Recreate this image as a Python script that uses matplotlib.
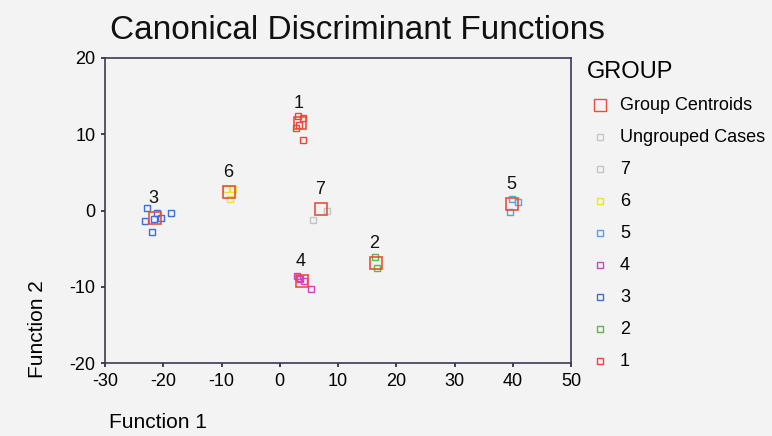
import matplotlib.pyplot as plt
from matplotlib.lines import Line2D

plt.rcParams['font.family'] = ['Liberation Sans', 'DejaVu Sans']
plt.rcParams['axes.unicode_minus'] = False

# discriminant scores per group (Function 1, Function 2)
groups = ['1', '2', '3', '4', '5', '6', '7']
group_x = {
    '1': [3.1, 4.0, 2.8, 4.0, 3.3],
    '2': [16.3, 16.7],
    '3': [-22.8, -21.1, -18.7, -23.1, -20.4, -21.6, -21.9],
    '4': [2.9, 3.5, 4.2, 5.3, 3.3],
    '5': [39.9, 40.9, 39.5],
    '6': [-9.2, -8.1, -8.5],
    '7': [5.7, 8.1],
}
group_y = {
    '1': [12.4, 12.1, 10.8, 9.2, 11.2],
    '2': [-6.1, -7.5],
    '3': [0.3, -0.3, -0.3, -1.4, -1.0, -1.1, -2.8],
    '4': [-8.6, -9.0, -9.2, -10.3, -8.8],
    '5': [1.5, 1.1, -0.2],
    '6': [2.8, 2.8, 1.5],
    '7': [-1.2, 0.0],
}
centroid_x = [3.5, 16.5, -21.4, 3.8, 39.9, -8.7, 7.1]
centroid_y = [11.5, -6.9, -1.0, -9.2, 0.85, 2.4, 0.2]

colors = {
    '1': '#e8473c', '2': '#5db840', '3': '#3a6ed8', '4': '#d040c8',
    '5': '#48a6f0', '6': '#f2e030', '7': '#c4c4c4',
}
centroid_color = '#e8503a'
ungrouped_color = '#c8c8c8'
bg = '#f3f3f3'

fig = plt.figure(figsize=(7.72, 4.36), dpi=100, facecolor=bg)
ax = fig.add_axes([0.136, 0.1674, 0.6037, 0.6996], facecolor=bg)

for g in groups:
    ax.plot(group_x[g], group_y[g], 's', ms=4.5, mfc='none', mec=colors[g], mew=1.0)
ax.plot(centroid_x, centroid_y, 's', ms=9, mfc='none', mec=centroid_color, mew=1.2)
for g, cx, cy in zip(groups, centroid_x, centroid_y):
    ax.annotate(g, (cx, cy), xytext=(-1, 8), textcoords='offset points',
                ha='center', va='bottom', fontsize=13, color='#111111')

ax.set_xlim(-30, 50)
ax.set_ylim(-20, 20)
ax.set_xticks(range(-30, 51, 10))
ax.set_yticks(range(-20, 21, 10))
ax.tick_params(direction='out', length=3, width=1.2, color='#222233',
               labelsize=13, pad=4)
for s in ax.spines.values():
    s.set_color('#3a3a55')
    s.set_linewidth(1.2)

ax.set_xlabel('Function 1', fontsize=15)
ax.xaxis.set_label_coords(0.008, -0.165)
ax.xaxis.label.set_ha('left')
ax.set_ylabel('Function 2', fontsize=15)
ax.yaxis.set_label_coords(-0.125, 0.11)

fig.text(0.142, 0.93, 'Canonical Discriminant Functions', fontsize=24,
         ha='left', va='center', color='#111111')

# legend drawn by hand to match the SPSS layout
fig.text(0.760, 0.835, 'GROUP', fontsize=17, ha='left', va='center')
leg_labels = ['Group Centroids', 'Ungrouped Cases'] + groups[::-1]
leg_colors = [centroid_color, ungrouped_color] + [colors[g] for g in groups[::-1]]
leg_sizes = [8] + [4] * 8
for i, (lab, c, ms) in enumerate(zip(leg_labels, leg_colors, leg_sizes)):
    yy = 1 - (105 + 32 * i) / 436
    fig.add_artist(Line2D([600 / 772], [yy], marker='s', ms=ms, mfc='none',
                          mec=c, mew=1.0, ls='none', transform=fig.transFigure))
    fig.text(620 / 772, yy, lab, fontsize=13, ha='left', va='center')

fig.savefig('out.png', dpi=100, facecolor=bg)
